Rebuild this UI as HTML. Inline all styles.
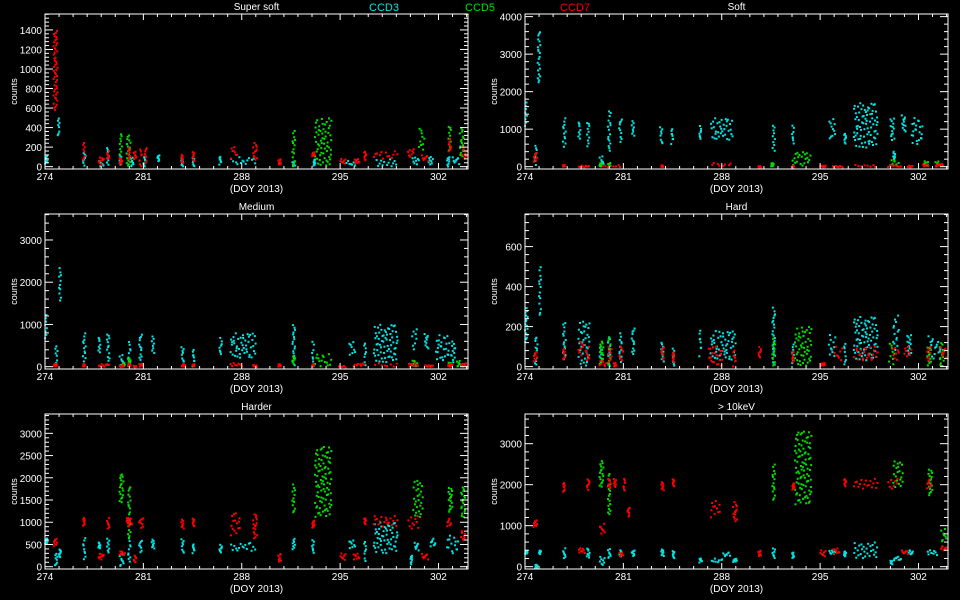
<!DOCTYPE html>
<html><head><meta charset="utf-8">
<style>
html,body{margin:0;padding:0;background:#000;}
svg{display:block;}
text{font-family:"Liberation Sans",sans-serif;fill:#fff;}
</style></head>
<body>
<svg id="chart" width="960" height="600" viewBox="0 0 960 600" xmlns="http://www.w3.org/2000/svg">
<rect x="0" y="0" width="960" height="600" fill="#000"/>
<text x="384" y="11" font-size="11" text-anchor="middle" style="fill:#00e5e5">CCD3</text>
<text x="480" y="11" font-size="11" text-anchor="middle" style="fill:#00e000">CCD5</text>
<text x="575" y="11" font-size="11" text-anchor="middle" style="fill:#ff0000">CCD7</text>
</svg>
<script>
// x-axis ticks shared
const xTicks = [274, 281, 288, 295, 302];
const xRange = [274, 304.1];
// panel titles and y ranges
const titles = ["Super soft", "Soft", "Medium", "Hard", "Harder", "> 10keV"];
const yMins = [-24, -62, -55, -12, -52, -57];
const yMaxs = [1563, 4070, 3615, 763, 3435, 3724];
const yMajor = [200, 1000, 1000, 200, 500, 1000];
const yTopLabel = [1400, 4000, 3000, 600, 3000, 3000];

// cluster data: [dayStart, dayEnd, lowCount, highCount]
const ssRed = [[274.6,274.9,550,1400],[276.7,276.8,50,250],[277.8,278.2,20,100],[278.4,278.6,80,160],[279.3,279.5,20,90],[279.9,280.1,50,200],[280.3,280.5,70,160],[280.7,280.9,0,180],[281.1,281.2,20,200],[283.7,283.8,30,140],[284.5,284.6,50,160],[287.2,287.7,80,200],[288.8,289.1,50,250],[290.6,290.8,20,80],[293.0,293.2,100,150],[295.0,295.4,30,80],[296.0,296.4,30,80],[296.7,296.8,60,160],[297.4,299.1,80,160],[299.8,300.3,100,180],[300.8,301.3,50,120],[302.7,302.9,150,300],[303.7,304.0,80,200]];
const ssCyan = [[274.0,274.2,20,120],[274.9,275.0,300,500],[276.7,276.9,0,150],[277.8,278.2,0,80],[278.4,278.5,0,200],[279.3,279.4,0,120],[280.1,280.3,0,100],[281.0,281.1,0,100],[282.0,282.1,50,120],[283.7,283.8,0,100],[284.5,284.6,0,100],[286.4,286.5,20,100],[287.2,289.0,20,100],[291.6,291.8,0,60],[293.1,293.2,0,80],[295.4,296.2,10,60],[297.4,299.1,0,80],[300.1,300.6,20,100],[301.3,301.6,20,120],[302.6,302.8,0,100],[303.0,303.5,20,100]];
const ssGreen = [[279.3,279.5,100,340],[279.8,280.1,0,330],[291.6,291.8,0,370],[293.2,294.4,0,500],[300.6,301.0,150,400],[302.7,302.9,150,420],[303.5,303.8,100,400]];

const softCyan = [[274.0,274.1,1000,1800],[274.9,275.1,2200,3600],[274.7,274.8,0,600],[276.7,276.9,500,1300],[277.8,277.9,700,1200],[278.4,278.6,500,1200],[279.3,279.6,0,300],[279.9,280.1,400,1500],[280.7,280.9,600,1300],[281.6,281.8,800,1300],[283.6,283.8,600,1100],[284.4,284.5,600,1000],[286.4,286.5,700,1100],[287.2,288.8,700,1300],[291.6,291.8,400,1100],[293.0,293.1,600,1100],[295.6,296.1,700,1300],[296.7,296.8,600,900],[297.4,299.1,500,1700],[300.0,300.3,700,1300],[300.8,301.1,900,1400],[301.5,302.3,600,1300],[300.2,300.3,200,400]];
const softGreen = [[293.0,294.4,0,400],[291.5,291.7,0,100],[279.3,279.5,0,100],[279.9,280.1,0,100],[300.0,300.6,0,180],[302.4,302.7,0,150],[303.2,303.5,0,150]];
const softRed = [[274.6,274.9,100,400],[276.7,276.8,0,50],[277.8,278.6,0,30],[279.4,280.9,0,40],[283.7,283.8,0,40],[287.2,288.8,0,100],[290.6,290.8,0,20],[293.0,293.1,0,30],[295.0,295.4,0,30],[295.9,296.7,0,30],[297.4,299.1,0,50],[299.8,300.8,0,40],[301.2,301.6,0,30],[302.3,302.7,0,80],[303.2,303.8,0,80]];

const medCyan = [[274.0,274.1,600,1300],[274.7,274.9,0,500],[275.0,275.1,1500,2400],[276.7,276.9,100,800],[277.8,277.9,300,700],[278.4,278.6,0,800],[279.3,279.6,0,300],[279.9,280.1,0,600],[280.7,280.9,100,800],[281.6,281.8,300,800],[283.7,283.9,100,500],[284.5,284.6,0,400],[286.4,286.6,250,700],[287.2,289.0,200,800],[291.6,291.8,0,1000],[293.0,293.1,0,600],[295.6,296.1,250,600],[296.7,296.8,0,600],[297.4,299.1,100,1000],[300.1,300.5,400,900],[301.0,301.3,400,800],[301.8,302.8,150,750],[302.9,303.2,100,600]];
const medGreen = [[279.5,279.7,0,100],[279.9,280.1,0,200],[291.6,291.8,50,250],[293.2,294.4,0,300],[300.1,300.5,0,150],[302.7,302.9,0,100],[303.3,303.6,0,150]];
const medRed = [[274.6,274.9,0,80],[276.7,276.8,0,60],[277.8,278.6,0,60],[279.3,279.6,0,40],[279.9,280.1,0,80],[280.3,280.5,0,20],[280.7,281.0,0,80],[283.7,284.0,0,60],[284.5,284.6,0,60],[287.2,288.1,0,100],[288.8,289.1,0,40],[290.6,290.8,0,60],[293.0,293.1,0,60],[294.9,295.4,0,20],[295.9,296.8,0,80],[297.4,299.1,0,80],[299.8,300.6,0,80],[301.0,301.6,0,40],[302.7,303.0,0,80],[303.6,304.0,0,80]];

const hardCyan = [[274.0,274.2,100,300],[274.7,274.9,0,150],[275.0,275.1,250,500],[276.7,276.9,30,220],[277.8,278.6,0,230],[279.3,279.5,0,100],[279.9,280.1,0,150],[280.7,280.9,20,170],[281.6,281.8,50,200],[283.7,283.9,20,130],[284.5,284.6,0,100],[286.4,286.5,50,180],[287.2,289.0,30,180],[291.6,291.8,0,300],[293.0,293.1,0,120],[295.6,296.1,50,160],[296.7,296.8,0,120],[297.4,299.1,30,250],[300.2,300.6,80,260],[301.2,301.5,60,160],[302.7,303.1,30,160],[303.1,303.6,60,130]];
const hardGreen = [[279.3,279.6,0,130],[279.9,280.1,0,150],[291.6,291.8,0,150],[293.2,294.4,0,200],[299.9,300.3,0,120],[302.6,302.9,0,100],[303.5,303.8,0,120]];
const hardRed = [[274.6,274.9,20,80],[276.7,276.8,30,90],[277.8,278.2,50,130],[278.3,278.6,30,100],[279.3,279.8,0,30],[279.9,280.2,20,100],[280.3,280.5,0,20],[280.7,281.0,30,100],[283.7,283.9,30,100],[284.5,284.6,20,80],[287.0,288.1,0,100],[288.8,289.0,0,80],[290.6,290.8,40,100],[293.0,293.1,20,80],[295.0,295.4,0,20],[296.0,296.6,30,100],[297.4,299.1,30,100],[300.1,300.6,30,100],[301.0,301.5,50,110],[302.6,302.9,30,100],[303.6,304.0,40,100]];

const harderRed = [[274.6,274.9,450,650],[276.7,276.8,900,1100],[277.8,278.2,150,300],[278.4,278.6,850,1100],[279.3,279.7,250,350],[279.8,280.0,950,1100],[279.9,280.2,900,1100],[280.3,280.5,100,250],[280.7,281.0,850,1100],[283.7,283.9,850,1100],[284.5,284.6,900,1100],[287.2,287.9,700,1200],[288.8,289.1,600,1200],[290.6,290.8,100,300],[293.0,293.2,850,1050],[295.0,295.4,150,300],[295.9,296.4,150,300],[296.7,296.8,950,1100],[297.4,299.1,900,1150],[299.8,300.6,850,1150],[300.8,301.3,150,300],[302.6,302.9,900,1100],[303.6,303.9,600,800]];
const harderCyan = [[274.0,274.2,500,650],[274.7,274.9,0,300],[275.0,275.1,200,400],[276.7,276.9,150,650],[277.8,277.9,400,550],[278.4,278.6,250,650],[279.3,279.6,0,300],[279.9,280.1,100,650],[280.7,280.9,300,600],[281.6,281.8,400,650],[283.7,283.9,300,650],[284.5,284.6,300,500],[286.4,286.6,300,500],[287.2,289.0,350,550],[291.6,291.8,350,650],[293.0,293.1,300,600],[295.6,296.1,400,600],[296.7,296.8,100,600],[297.4,299.1,300,1000],[300.0,300.1,50,250],[300.3,300.6,350,550],[301.4,301.8,450,650],[302.6,303.4,300,700]];
const harderGreen = [[279.3,279.6,1400,2100],[279.9,280.1,600,1800],[291.6,291.8,1200,1900],[293.2,294.4,1100,2700],[300.2,300.9,1100,1950],[302.7,303.0,1200,1800],[303.6,303.9,1100,1800]];

const tenRed = [[274.6,274.9,950,1150],[276.7,276.8,1800,2050],[278.4,278.6,1850,2150],[279.3,279.7,800,1050],[279.9,280.1,1900,2150],[280.3,280.5,1900,2150],[280.7,281.0,250,350],[281.0,281.1,1850,2150],[281.3,281.4,1200,1450],[283.7,283.9,1850,2100],[284.5,284.6,1950,2150],[287.2,287.9,1200,1600],[288.8,289.1,1050,1600],[290.6,290.8,250,400],[293.0,293.2,1850,2050],[295.0,295.4,250,400],[295.9,296.4,300,450],[296.7,296.8,1950,2150],[297.4,299.1,1900,2150],[299.8,300.6,1900,2150],[300.8,301.3,300,400],[302.6,302.9,1900,2150],[303.6,304.0,400,500],[277.8,278.3,300,450]];
const tenCyan = [[274.0,274.2,300,400],[274.7,274.9,-50,50],[275.0,275.1,300,400],[276.7,276.9,200,450],[278.4,278.6,200,450],[279.3,279.7,0,250],[279.9,280.1,200,450],[280.7,280.9,250,400],[281.6,281.8,250,400],[283.7,283.9,250,450],[284.5,284.6,200,400],[286.4,286.6,100,200],[287.2,288.1,100,200],[288.1,288.6,250,350],[288.8,289.1,100,200],[291.6,291.8,200,450],[293.0,293.1,200,350],[295.6,296.1,300,400],[296.7,296.8,250,400],[297.4,299.1,200,600],[300.0,300.1,50,150],[300.2,300.8,150,250],[301.3,301.6,300,400],[302.6,303.4,250,400]];
const tenGreen = [[279.3,279.6,1900,2600],[279.9,280.1,1200,2300],[291.6,291.8,1600,2500],[293.2,294.4,1500,3300],[300.2,300.9,1900,2600],[302.7,303.0,1700,2400],[303.6,304.0,600,950]];

const panelSeries = [
  [ssCyan, ssGreen, ssRed],
  [softCyan, softGreen, softRed],
  [medCyan, medGreen, medRed],
  [hardCyan, hardGreen, hardRed],
  [harderCyan, harderGreen, harderRed],
  [tenCyan, tenGreen, tenRed]
];
const seriesNames = ["ccd3", "ccd5", "ccd7"];
const seriesColors = ["#00e5e5", "#00e000", "#ff0000"];

const NS = "http://www.w3.org/2000/svg";
const svg = document.getElementById("chart");
function mk(tag, attrs, parent) {
  const e = document.createElementNS(NS, tag);
  for (const k in attrs) e.setAttribute(k, attrs[k]);
  (parent || svg).appendChild(e);
  return e;
}
function halton(i, b) { let f = 1, r = 0; while (i > 0) { f /= b; r += f * (i % b); i = Math.floor(i / b); } return r; }

for (let p = 0; p < 6; p++) {
  const col = p % 2, row = Math.floor(p / 2);
  const L = col ? 525 : 45, R = col ? 948 : 468;
  const T = 14 + row * 200, B = 169 + row * 200;
  const xs = d => L + (d - xRange[0]) / (xRange[1] - xRange[0]) * (R - L);
  const ys = v => B - (v - yMins[p]) / (yMaxs[p] - yMins[p]) * (B - T);
  const g = mk("g", {});
  
  

  for (let s = 0; s < 3; s++) {
    const sg = mk("g", { fill: seriesColors[s] }, g);
    
    
    panelSeries[p][s].forEach((c, ci) => {
      const x0 = xs(c[0]), x1 = xs(c[1]);
      const y0 = ys(c[3]), y1 = ys(c[2]);
      const w = Math.max(2, x1 - x0), h = Math.max(2, y1 - y0);
      const dens = w < 5 ? 0.14 : 0.07;
      const n = Math.max(8, Math.min(260, Math.round(w * h * dens)));
      const cg = mk("g", {}, sg);
      
      
      for (let i = 1; i <= n; i++) {
        mk("rect", { x: (x0 + halton(i + ci * 7, 2) * w - 1).toFixed(1), y: (y0 + halton(i + ci * 7, 3) * h - 1).toFixed(1), width: 2, height: 2 }, cg);
      }
    });
  }

  const box = mk("rect", { x: L, y: T, width: R - L, height: B - T, fill: "none", stroke: "#fff", "stroke-width": 1 }, g);
  
  

  xTicks.forEach(t => {
    const x = xs(t);
    mk("line", { x1: x, y1: B, x2: x, y2: B - 6, stroke: "#fff" }, g);
    mk("line", { x1: x, y1: T, x2: x, y2: T + 6, stroke: "#fff" }, g);
    const tl = mk("text", { x: x, y: B + 11, "font-size": 10, "text-anchor": "middle" }, g);
    
    
    tl.textContent = t;
  });
  for (let d = 275; d < 305; d++) {
    if (xTicks.indexOf(d) >= 0) continue;
    const x = xs(d);
    mk("line", { x1: x, y1: B, x2: x, y2: B - 3, stroke: "#fff" }, g);
    mk("line", { x1: x, y1: T, x2: x, y2: T + 3, stroke: "#fff" }, g);
  }
  const maj = yMajor[p], mnr = maj / 5;
  for (let v = 0; v <= yMaxs[p]; v += mnr) {
    const y = ys(v);
    const isMaj = Math.abs(v / maj - Math.round(v / maj)) < 1e-6;
    const len = isMaj ? 8 : 4;
    mk("line", { x1: L, y1: y, x2: L + len, y2: y, stroke: "#fff" }, g);
    mk("line", { x1: R, y1: y, x2: R - len, y2: y, stroke: "#fff" }, g);
    if (isMaj && v <= yTopLabel[p] + 1) {
      const yl = mk("text", { x: L - 3, y: y + 4, "font-size": 10, "text-anchor": "end" }, g);
      
      
      yl.textContent = Math.round(v);
    }
  }
  const ttl = mk("text", { x: (L + R) / 2, y: T - 4, "font-size": 10, "text-anchor": "middle" }, g);
  
  
  ttl.textContent = titles[p];
  const xl = mk("text", { x: (L + R) / 2, y: B + 23, "font-size": 10, "text-anchor": "middle" }, g);
  
  
  xl.textContent = "(DOY 2013)";
  const yt = mk("text", { x: 0, y: 0, "font-size": 9, "text-anchor": "middle", transform: "translate(" + (L - 28) + "," + ((T + B) / 2) + ") rotate(-90)" }, g);
  
  
  yt.textContent = "counts";
}
</script>
</body></html>
